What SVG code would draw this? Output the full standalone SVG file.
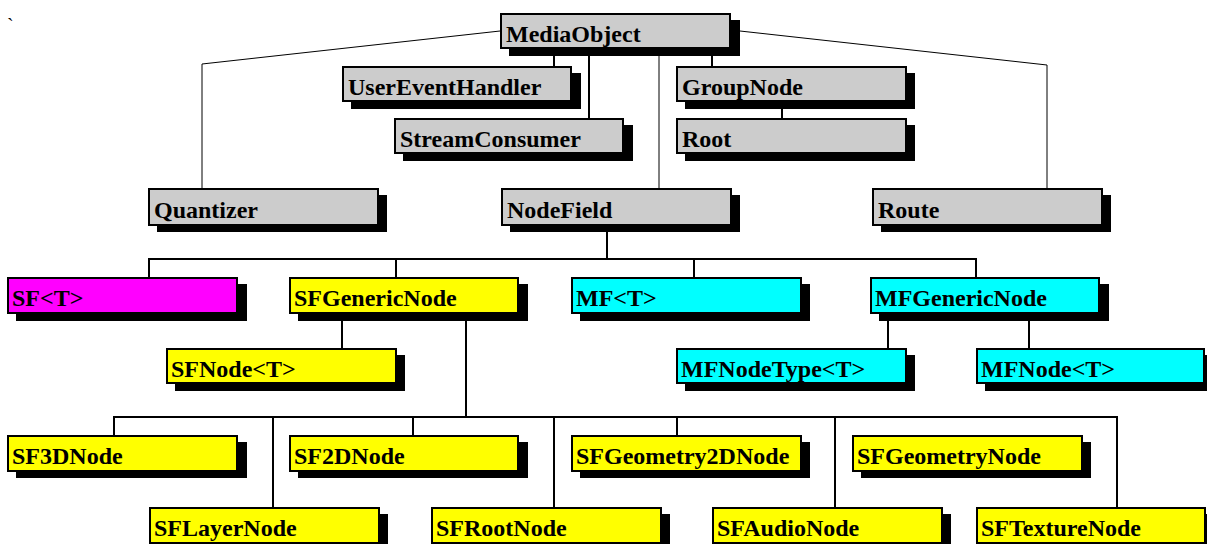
<svg xmlns="http://www.w3.org/2000/svg" width="1207" height="544" viewBox="0 0 1207 544">
<style>
.sh{fill:#000}
.bx{stroke:#000;stroke-width:2}
.g{fill:#cccccc}
.y{fill:#ffff00}
.c{fill:#00ffff}
.m{fill:#ff00ff}
.t{font-family:"Liberation Serif","Times New Roman",serif;font-weight:bold;font-size:24px;fill:#000}
.w1{fill:none;stroke:#000;stroke-width:1}
.w2{fill:none;stroke:#000;stroke-width:2}
</style>
<rect width="1207" height="544" fill="#fff"/>
<text x="7" y="33" style="font-family:'Liberation Serif',serif;font-size:20px">`</text>
<g id="connectors">
<polyline class="w1" points="500,31 202,64 202,188"/>
<polyline class="w1" points="740,31 1047,65 1047,188"/>
<line class="w1" x1="659" y1="49" x2="659" y2="188"/>
<line class="w2" x1="554" y1="49" x2="554" y2="66"/>
<line class="w2" x1="589" y1="49" x2="589" y2="118"/>
<line class="w2" x1="712" y1="49" x2="712" y2="66"/>
<line class="w2" x1="782" y1="102" x2="782" y2="118"/>
<line class="w2" x1="607" y1="226" x2="607" y2="259"/>
<polyline class="w2" points="149,277 149,259 976,259 976,277"/>
<line class="w2" x1="396" y1="259" x2="396" y2="277"/>
<line class="w2" x1="694" y1="259" x2="694" y2="277"/>
<line class="w2" x1="342" y1="313" x2="342" y2="348"/>
<line class="w2" x1="888" y1="313" x2="888" y2="348"/>
<line class="w2" x1="1029" y1="313" x2="1029" y2="348"/>
<line class="w2" x1="466" y1="313" x2="466" y2="417"/>
<polyline class="w2" points="114,435 114,417 1117,417 1117,507"/>
<line class="w2" x1="413" y1="417" x2="413" y2="435"/>
<line class="w2" x1="677" y1="417" x2="677" y2="435"/>
<line class="w2" x1="273" y1="417" x2="273" y2="507"/>
<line class="w2" x1="554" y1="417" x2="554" y2="507"/>
<line class="w2" x1="835" y1="417" x2="835" y2="507"/>
</g>
<g id="MediaObject"><rect class="sh" x="509" y="20" width="231" height="36"/><rect class="bx g" x="501" y="14" width="229" height="34"/><text class="t" x="506" y="42">MediaObject</text></g>
<g id="UserEventHandler"><rect class="sh" x="351" y="73" width="230" height="36"/><rect class="bx g" x="343" y="67" width="228" height="34"/><text class="t" x="348" y="95">UserEventHandler</text></g>
<g id="StreamConsumer"><rect class="sh" x="403" y="125" width="230" height="36"/><rect class="bx g" x="395" y="119" width="228" height="34"/><text class="t" x="400" y="147">StreamConsumer</text></g>
<g id="GroupNode"><rect class="sh" x="685" y="73" width="230" height="36"/><rect class="bx g" x="677" y="67" width="229" height="34"/><text class="t" x="682" y="95">GroupNode</text></g>
<g id="Root"><rect class="sh" x="685" y="125" width="230" height="36"/><rect class="bx g" x="677" y="119" width="229" height="34"/><text class="t" x="682" y="147">Root</text></g>
<g id="Quantizer"><rect class="sh" x="157" y="195" width="230" height="37"/><rect class="bx g" x="149" y="189" width="229" height="36"/><text class="t" x="154" y="218">Quantizer</text></g>
<g id="NodeField"><rect class="sh" x="510" y="195" width="230" height="37"/><rect class="bx g" x="502" y="189" width="229" height="36"/><text class="t" x="507" y="218">NodeField</text></g>
<g id="Route"><rect class="sh" x="881" y="195" width="230" height="37"/><rect class="bx g" x="873" y="189" width="229" height="36"/><text class="t" x="878" y="218">Route</text></g>
<g id="SF_T"><rect class="sh" x="16" y="284" width="231" height="37"/><rect class="bx m" x="8" y="278" width="229" height="35"/><text class="t" x="12" y="306">SF&lt;T&gt;</text></g>
<g id="SFGenericNode"><rect class="sh" x="298" y="284" width="230" height="37"/><rect class="bx y" x="290" y="278" width="228" height="35"/><text class="t" x="294" y="306">SFGenericNode</text></g>
<g id="MF_T"><rect class="sh" x="580" y="284" width="230" height="37"/><rect class="bx c" x="572" y="278" width="229" height="35"/><text class="t" x="576" y="306">MF&lt;T&gt;</text></g>
<g id="MFGenericNode"><rect class="sh" x="879" y="284" width="230" height="37"/><rect class="bx c" x="871" y="278" width="228" height="35"/><text class="t" x="875" y="306">MFGenericNode</text></g>
<g id="SFNode_T"><rect class="sh" x="175" y="355" width="230" height="36"/><rect class="bx y" x="167" y="349" width="229" height="34"/><text class="t" x="171" y="377">SFNode&lt;T&gt;</text></g>
<g id="MFNodeType_T"><rect class="sh" x="685" y="355" width="230" height="36"/><rect class="bx c" x="677" y="349" width="229" height="34"/><text class="t" x="681" y="377">MFNodeType&lt;T&gt;</text></g>
<g id="MFNode_T"><rect class="sh" x="985" y="355" width="229" height="36"/><rect class="bx c" x="977" y="349" width="227" height="34"/><text class="t" x="981" y="377">MFNode&lt;T&gt;</text></g>
<g id="SF3DNode"><rect class="sh" x="16" y="442" width="231" height="36"/><rect class="bx y" x="8" y="436" width="229" height="35"/><text class="t" x="12" y="464">SF3DNode</text></g>
<g id="SF2DNode"><rect class="sh" x="298" y="442" width="230" height="36"/><rect class="bx y" x="290" y="436" width="228" height="35"/><text class="t" x="294" y="464">SF2DNode</text></g>
<g id="SFGeometry2DNode"><rect class="sh" x="580" y="442" width="230" height="36"/><rect class="bx y" x="572" y="436" width="229" height="35"/><text class="t" x="576" y="464">SFGeometry2DNode</text></g>
<g id="SFGeometryNode"><rect class="sh" x="861" y="442" width="230" height="36"/><rect class="bx y" x="853" y="436" width="229" height="35"/><text class="t" x="857" y="464">SFGeometryNode</text></g>
<g id="SFLayerNode"><rect class="sh" x="158" y="514" width="230" height="36"/><rect class="bx y" x="150" y="508" width="229" height="35"/><text class="t" x="154" y="536">SFLayerNode</text></g>
<g id="SFRootNode"><rect class="sh" x="440" y="514" width="230" height="36"/><rect class="bx y" x="432" y="508" width="229" height="35"/><text class="t" x="436" y="536">SFRootNode</text></g>
<g id="SFAudioNode"><rect class="sh" x="721" y="514" width="230" height="36"/><rect class="bx y" x="713" y="508" width="229" height="35"/><text class="t" x="717" y="536">SFAudioNode</text></g>
<g id="SFTextureNode"><rect class="sh" x="985" y="514" width="229" height="36"/><rect class="bx y" x="977" y="508" width="228" height="35"/><text class="t" x="981" y="536">SFTextureNode</text></g>
</svg>
